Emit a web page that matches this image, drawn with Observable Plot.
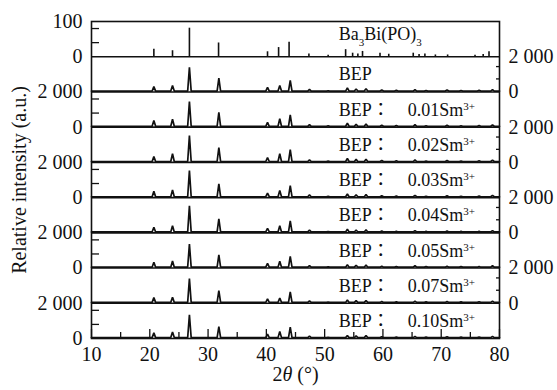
<!DOCTYPE html>
<html><head><meta charset="utf-8">
<script src="https://cdn.jsdelivr.net/npm/d3@7"></script>
<script src="https://cdn.jsdelivr.net/npm/@observablehq/plot@0.6"></script>
<style>
body{margin:0;background:#fff;}
</style></head><body><div id="chart"></div>
<script>
// ---------- data ----------
// panels from bottom (index 0) to top (index 8)
const sampleNames = ["BEP：　0.10Sm^{3+}", "BEP：　0.07Sm^{3+}", "BEP：　0.05Sm^{3+}", "BEP：　0.04Sm^{3+}",
                     "BEP：　0.03Sm^{3+}", "BEP：　0.02Sm^{3+}", "BEP：　0.01Sm^{3+}", "BEP"];
const refName = "Ba_{3}Bi(PO)_{3}";

// diffraction peaks (2θ, °) shared by all measured samples
const peakPos = [20.7, 23.9, 26.8, 31.85, 40.2, 42.3, 44.1, 47.4, 50.6, 53.9, 55.4, 57.1, 59.8, 62.3, 65.5, 67.4, 71.0, 73.4, 76.5, 78.8];
// peak intensities (counts) per sample
const h010 = [320, 375, 1350, 680, 250, 400, 640, 140, 70, 170, 150, 160, 100, 80, 120, 80, 100, 80, 90, 120];
const h007 = [320, 340, 1400, 720, 250, 300, 640, 140, 70, 180, 150, 160, 100, 80, 120, 80, 100, 80, 90, 120];
const h005 = [330, 400, 1360, 750, 260, 380, 660, 140, 70, 190, 160, 170, 110, 80, 130, 80, 100, 80, 90, 130];
const h004 = [320, 400, 1530, 800, 260, 400, 680, 150, 70, 200, 160, 170, 110, 90, 130, 80, 110, 80, 90, 130];
const h003 = [360, 440, 1530, 780, 260, 400, 680, 150, 70, 200, 160, 170, 110, 90, 130, 80, 110, 80, 90, 130];
const h002 = [340, 490, 1530, 835, 270, 490, 720, 150, 80, 220, 170, 180, 110, 90, 140, 80, 110, 80, 90, 130];
const h001 = [375, 450, 1450, 835, 270, 480, 700, 150, 80, 220, 170, 180, 110, 90, 140, 80, 110, 80, 90, 130];
const hBEP = [300, 360, 1400, 780, 260, 360, 650, 140, 70, 230, 170, 180, 110, 90, 130, 80, 110, 80, 90, 130];
const sampleHeights = [h010, h007, h005, h004, h003, h002, h001, hBEP];
const background = 50;       // counts
const countsPerPanel = 2000; // each measured panel spans 0–2 000

// reference pattern Ba3Bi(PO4)3 (relative intensity, 0–100)
const refPos = [20.7, 23.9, 26.8, 31.8, 40.2, 42.1, 43.9, 47.3, 50.6, 53.6, 54.8, 55.7, 56.5, 59.5, 61.0, 65.2, 66.2, 67.2, 69.0, 71.1, 75.8, 77.2, 78.2];
const refInt = [21, 17, 81, 39, 14, 26, 41, 8, 4, 20, 10, 8, 15, 10, 7, 10, 6, 8, 5, 5, 4, 6, 14];
const refMax = 100;

// axes
const xTicks = [10, 20, 30, 40, 50, 60, 70, 80];
const xMinorTicks = [15, 25, 35, 45, 55, 65, 75];
const leftLabelPos = [0, 1, 2, 3, 4, 5, 6, 7, 8, 9];
const leftLabels = ["0", "2 000", "0", "2 000", "0", "2 000", "0", "2 000", "0", "100"];
const rightLabelPos = [1, 2, 3, 4, 5, 6, 7, 8];
const rightLabels = ["0", "2 000", "0", "2 000", "0", "2 000", "0", "2 000"];
const leftTickPanels = [0, 2, 4, 6, 8];
const leftTickFrac = [0.4, 0.8];
const rightTickPanels = [1, 3, 5, 7];
const rightTickFrac = [0.37, 0.72];
const xTitle = "2*θ* (°)";
const yTitle = "Relative intensity (a.u.)";

// ---------- build tables ----------
const halfWidth = 0.3;
const pts = [];
sampleHeights.forEach((hs, panel) => {
  pts.push({panel, x: 10, y: panel + background / countsPerPanel});
  peakPos.forEach((p, j) => {
    pts.push({panel, x: p - halfWidth, y: panel + background / countsPerPanel});
    pts.push({panel, x: p, y: panel + hs[j] / countsPerPanel});
    pts.push({panel, x: p + halfWidth, y: panel + background / countsPerPanel});
  });
  pts.push({panel, x: 80, y: panel + background / countsPerPanel});
});
const refPanel = 8;
const sticks = refPos.map((p, i) => ({x: p, y1: refPanel, y2: refPanel + refInt[i] / refMax}));
const labels = sampleNames.map((n, i) => ({text: n, y: i + 0.49}));
labels.push({text: refName, y: refPanel + 0.63});
const leftTicks = leftTickPanels.flatMap(p => leftTickFrac.map(f => p + f));
const rightTicks = rightTickPanels.flatMap(p => rightTickFrac.map(f => p + f));

const W = 557, H = 390, mL = 91, mR = 58, mT = 21, mB = 52;
const plotW = W - mL - mR, plotH = H - mT - mB;
const ink = "#111";

const chart = Plot.plot({
  width: W, height: H,
  marginLeft: mL, marginRight: mR, marginTop: mT, marginBottom: mB,
  style: {fontFamily: "'Liberation Serif','Times New Roman','Noto Sans CJK JP',serif", fontSize: "20px", color: ink, background: "#fff"},
  x: {domain: [10, 80]},
  y: {domain: [0, 9]},
  marks: [
    Plot.line(pts, {x: "x", y: "y", z: "panel", stroke: ink, strokeWidth: 1.7, strokeLinejoin: "miter"}),
    Plot.ruleX(sticks, {x: "x", y1: "y1", y2: "y2", stroke: ink, strokeWidth: 1.6}),
    Plot.ruleY(d3.range(1, 9), {stroke: ink, strokeWidth: 1.6}),
    Plot.frame({stroke: ink, strokeWidth: 1.6}),
    // inward ticks
    Plot.tickY(leftTicks, {y: d => d, insetRight: plotW - 8, stroke: ink, strokeWidth: 1.3}),
    Plot.tickY(rightTicks, {y: d => d, insetLeft: plotW - 3, stroke: ink, strokeWidth: 1.3}),
    Plot.tickX(xTicks, {x: d => d, insetTop: plotH - 9, stroke: ink, strokeWidth: 1.3}),
    Plot.tickX(xMinorTicks, {x: d => d, insetTop: plotH - 6, stroke: ink, strokeWidth: 1.3}),
    // axes labels
    Plot.axisY(leftLabelPos, {anchor: "left", tickSize: 0, tickPadding: 9,
      tickFormat: d => leftLabels[leftLabelPos.indexOf(d)], fontSize: 20,
      label: yTitle, labelAnchor: "center", labelArrow: "none", labelOffset: 80}),
    Plot.axisY(rightLabelPos, {anchor: "right", tickSize: 0, tickPadding: 9, label: null,
      tickFormat: d => rightLabels[rightLabelPos.indexOf(d)], fontSize: 20}),
    Plot.axisX(xTicks, {anchor: "bottom", tickSize: 0, tickPadding: 8, label: null, fontSize: 20, tickFormat: d => String(d)}),
    // sample labels
    Plot.text(labels, {x: 52.4, y: "y", text: "text", textAnchor: "start", fontSize: 18, fill: ink}),
    // x title
    Plot.text([xTitle], {frameAnchor: "bottom", dy: 42, fontSize: 20, fill: ink})
  ]
});
document.getElementById("chart").appendChild(chart);

// rich text: ^{sup}, _{sub}, *italic*
d3.select(chart).selectAll("text").each(function () {
  const t = this.textContent;
  if (!/([\^_]\{)|\*/.test(t)) return;
  const parts = t.split(/([\^_]\{[^}]*\}|\*[^*]*\*)/).filter(s => s);
  this.textContent = "";
  let shift = 0;
  for (const p of parts) {
    const ts = d3.select(this).append("tspan");
    let m;
    if ((m = p.match(/^([\^_])\{([^}]*)\}$/))) {
      const target = m[1] === "^" ? -6 : 6;
      ts.attr("dy", target - shift).attr("font-size", 11).text(m[2]);
      shift = target;
    } else if ((m = p.match(/^\*([^*]*)\*$/))) {
      ts.attr("dy", -shift).attr("font-style", "italic").text(m[1]);
      shift = 0;
    } else {
      ts.attr("dy", -shift).text(p);
      shift = 0;
    }
  }
});
</script></body></html>
